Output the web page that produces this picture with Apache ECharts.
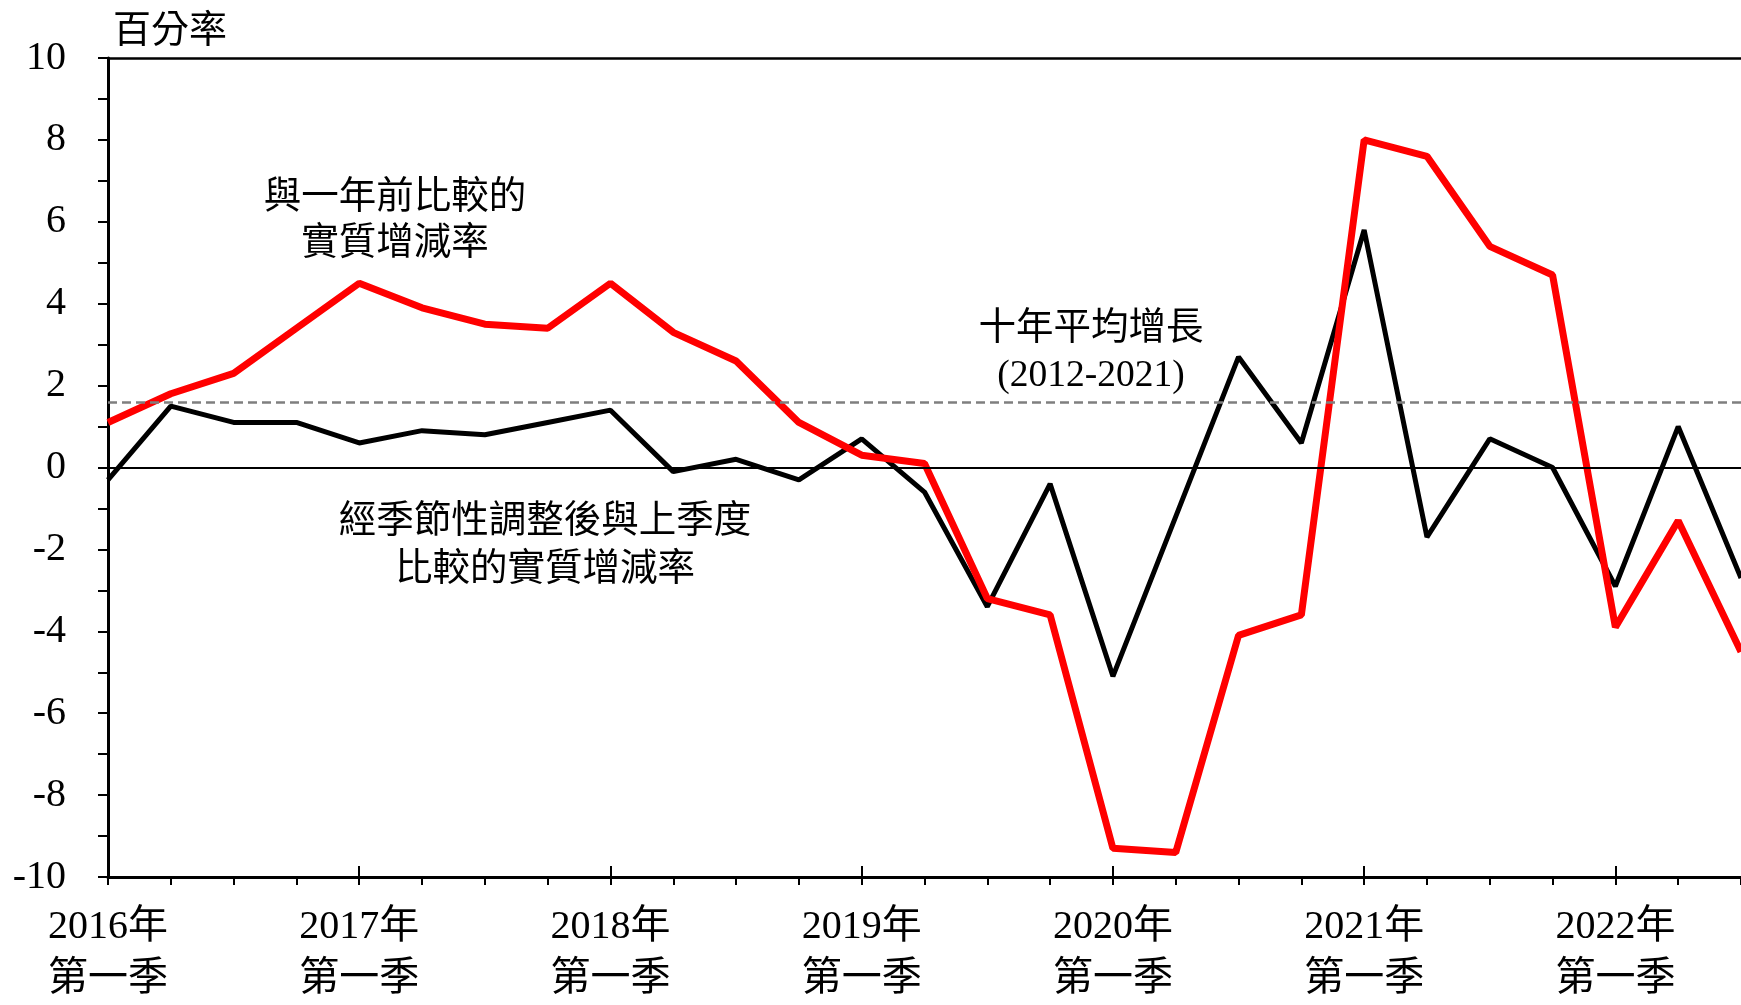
<!DOCTYPE html>
<html>
<head>
<meta charset="utf-8">
<script src="https://cdn.jsdelivr.net/npm/echarts@6/dist/echarts.min.js"></script>
<style>
  html, body { margin: 0; padding: 0; background: #fff; }
  #chart { width: 1741px; height: 1005px; }
</style>
</head>
<body>
<div id="chart"></div>
<script>
// 季度
const categories = [
  '2016年第一季', '2016年第二季', '2016年第三季', '2016年第四季',
  '2017年第一季', '2017年第二季', '2017年第三季', '2017年第四季',
  '2018年第一季', '2018年第二季', '2018年第三季', '2018年第四季',
  '2019年第一季', '2019年第二季', '2019年第三季', '2019年第四季',
  '2020年第一季', '2020年第二季', '2020年第三季', '2020年第四季',
  '2021年第一季', '2021年第二季', '2021年第三季', '2021年第四季',
  '2022年第一季', '2022年第二季', '2022年第三季'
];
// 與一年前比較的實質增減率
const yoyValues = [
  1.1, 1.8, 2.3, 3.4,
  4.5, 3.9, 3.5, 3.4,
  4.5, 3.3, 2.6, 1.1,
  0.3, 0.1, -3.2, -3.6,
  -9.3, -9.4, -4.1, -3.6,
  8.0, 7.6, 5.4, 4.7,
  -3.9, -1.3, -4.5
];
// 經季節性調整後與上季度比較的實質增減率
const qoqValues = [
  -0.3, 1.5, 1.1, 1.1,
  0.6, 0.9, 0.8, 1.1,
  1.4, -0.1, 0.2, -0.3,
  0.7, -0.6, -3.4, -0.4,
  -5.1, -1.2, 2.7, 0.6,
  5.8, -1.7, 0.7, 0.0,
  -2.9, 1.0, -2.7
];
// 十年平均增長 (2012-2021)
const tenYearAvg = 1.6;
// y 軸刻度
const yMin = -10;
const yMax = 10;

const FONT = "'Liberation Serif', 'Noto Sans CJK TC', serif";

const myChart = echarts.init(document.getElementById('chart'));

const option = {
  backgroundColor: '#fff',
  animation: false,
  textStyle: { fontFamily: FONT, color: '#000' },
  grid: { left: 108, right: -4, top: 58, bottom: 126 },
  xAxis: [
    {
      type: 'category',
      data: categories,
      boundaryGap: false,
      position: 'bottom',
      axisLine: { onZero: false, lineStyle: { color: '#000', width: 3 } },
      axisTick: { interval: 0, length: 8, lineStyle: { color: '#000', width: 2 } },
      axisLabel: {
        interval: 3,
        margin: 24,
        fontSize: 40,
        lineHeight: 52,
        color: '#000',
        fontFamily: FONT,
        formatter: v => v.replace('年', '年\n')
      },
      splitLine: { show: false }
    },
    {
      type: 'category',
      data: categories,
      boundaryGap: false,
      position: 'bottom',
      axisLine: { show: false, onZero: false },
      axisTick: { interval: 3, inside: true, length: 11, lineStyle: { color: '#000', width: 2 } },
      axisLabel: { show: false },
      splitLine: { show: false }
    },
    {
      type: 'category',
      data: categories,
      boundaryGap: false,
      position: 'top',
      axisLine: { onZero: false, lineStyle: { color: '#000', width: 2.5 } },
      axisTick: { show: false },
      axisLabel: { show: false },
      splitLine: { show: false }
    }
  ],
  yAxis: {
    type: 'value',
    min: yMin,
    max: yMax,
    interval: 1,
    axisLine: { show: true, onZero: false, lineStyle: { color: '#000', width: 3 } },
    axisTick: { show: true, length: 10, lineStyle: { color: '#000', width: 2 } },
    axisLabel: {
      margin: 42,
      fontSize: 40,
      color: '#000',
      fontFamily: FONT,
      formatter: v => (v % 2 === 0 ? String(v) : '')
    },
    splitLine: { show: false }
  },
  graphic: [
    {
      type: 'text',
      left: 113,
      top: 13,
      style: { text: '百分率', font: '38px ' + FONT, fill: '#000' }
    },
    {
      type: 'text',
      x: 395, y: 221,
      style: {
        text: '與一年前比較的\n實質增減率',
        font: '37.5px ' + FONT, fill: '#000',
        align: 'center', verticalAlign: 'middle', lineHeight: 46
      }
    },
    {
      type: 'text',
      x: 1091, y: 353,
      style: {
        text: '十年平均增長\n(2012-2021)',
        font: '37.5px ' + FONT, fill: '#000',
        align: 'center', verticalAlign: 'middle', lineHeight: 47
      }
    },
    {
      type: 'text',
      x: 545, y: 546,
      style: {
        text: '經季節性調整後與上季度\n比較的實質增減率',
        font: '37.5px ' + FONT, fill: '#000',
        align: 'center', verticalAlign: 'middle', lineHeight: 48
      }
    }
  ],
  series: [
    {
      name: '經季節性調整後與上季度比較的實質增減率',
      type: 'line',
      data: qoqValues,
      symbol: 'none',
      lineStyle: { color: '#000', width: 5 },
      markLine: {
        silent: true,
        symbol: 'none',
        label: { show: false },
        data: [
          { yAxis: 0, lineStyle: { color: '#000', width: 2, type: 'solid' } },
          { yAxis: tenYearAvg, lineStyle: { color: '#7f7f7f', width: 2.5, type: [9, 5] } }
        ]
      }
    },
    {
      name: '與一年前比較的實質增減率',
      type: 'line',
      data: yoyValues,
      symbol: 'none',
      lineStyle: { color: '#ff0000', width: 7 }
    }
  ]
};

myChart.setOption(option);
</script>
</body>
</html>
